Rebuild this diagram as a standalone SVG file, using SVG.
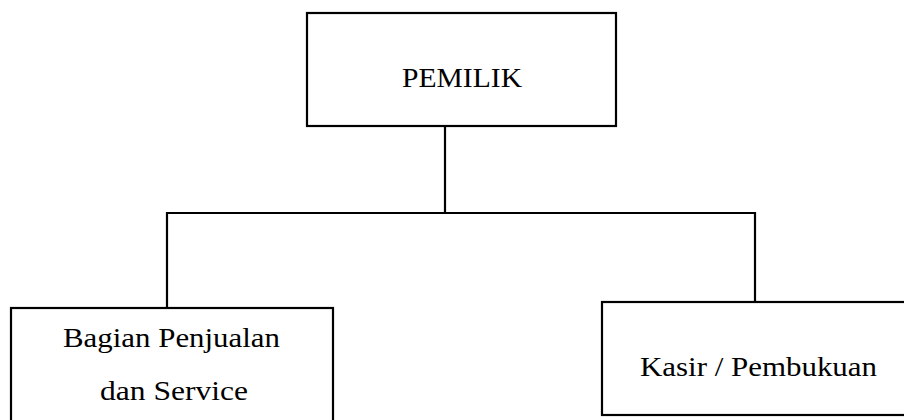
<svg xmlns="http://www.w3.org/2000/svg" width="904" height="420" viewBox="0 0 904 420">
<style>
.box{fill:none;stroke:#000;stroke-width:2.2}
.ln{fill:none;stroke:#000;stroke-width:2.2}
text{font-family:"Liberation Serif","Times New Roman",serif;fill:#000;font-size:28px}
</style>
<rect width="904" height="420" fill="#fff"/>
<g id="pemilik">
<rect class="box" x="307" y="13" width="309" height="113"/>
<text x="402" y="87" textLength="120" lengthAdjust="spacingAndGlyphs">PEMILIK</text>
</g>
<g id="bagian-penjualan">
<rect class="box" x="11" y="308" width="322" height="130"/>
<text x="63" y="347" textLength="217" lengthAdjust="spacingAndGlyphs">Bagian Penjualan</text>
<text x="100" y="400" textLength="148" lengthAdjust="spacingAndGlyphs">dan Service</text>
</g>
<g id="kasir">
<rect class="box" x="602" y="302" width="320" height="113"/>
<text x="640" y="376" textLength="237" lengthAdjust="spacingAndGlyphs">Kasir / Pembukuan</text>
</g>
<g id="connectors">
<path class="ln" d="M445 126 V213"/>
<path class="ln" d="M167 308 V213 H755 V302"/>
</g>
</svg>
